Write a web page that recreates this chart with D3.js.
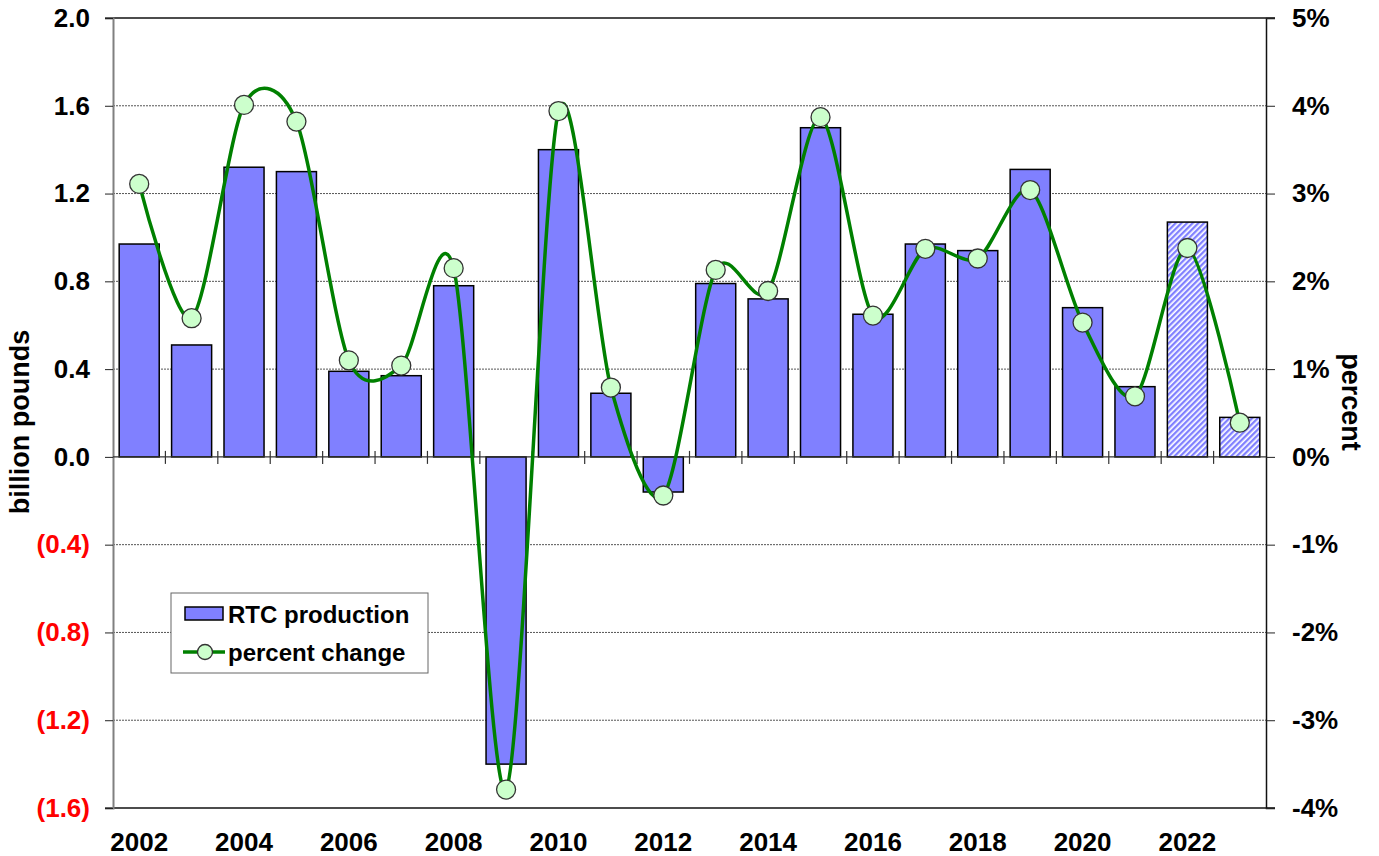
<!DOCTYPE html>
<html>
<head>
<meta charset="utf-8">
<script src="https://cdn.jsdelivr.net/npm/d3@7"></script>
<style>
  body { margin: 0; background: #fff; }
  #chart { width: 1379px; height: 856px; }
  text { font-family: "Liberation Sans", Arial, sans-serif; font-weight: bold; }
</style>
</head>
<body>
<div id="chart"></div>
<script>
// data
const years = ["2002","2003","2004","2005","2006","2007","2008","2009","2010","2011","2012",
               "2013","2014","2015","2016","2017","2018","2019","2020","2021","2022","2023"];
const production = [0.97, 0.51, 1.32, 1.30, 0.39, 0.37, 0.78, -1.40, 1.40, 0.29, -0.16,
                    0.79, 0.72, 1.50, 0.65, 0.97, 0.94, 1.31, 0.68, 0.32, 1.07, 0.18];
const pctChange = [3.11, 1.58, 4.01, 3.82, 1.10, 1.04, 2.15, -3.79, 3.94, 0.79, -0.44,
                   2.13, 1.89, 3.87, 1.61, 2.37, 2.26, 3.04, 1.53, 0.69, 2.38, 0.39];
const forecastYears = ["2022", "2023"];
const leftTicks = [2.0, 1.6, 1.2, 0.8, 0.4, 0.0, -0.4, -0.8, -1.2, -1.6];
const rightTicks = [5, 4, 3, 2, 1, 0, -1, -2, -3, -4];

const width = 1379, height = 856;
const margin = {top: 18, left: 113, right: 113, bottom: 48};

const svg = d3.select("#chart").append("svg")
    .attr("width", width).attr("height", height);

// hatch pattern for the forecast bars
const defs = svg.append("defs");
const pat = defs.append("pattern")
    .attr("id", "hatch")
    .attr("patternUnits", "userSpaceOnUse")
    .attr("width", 4).attr("height", 4)
    .attr("patternTransform", "rotate(45)");
pat.append("rect").attr("width", 4).attr("height", 4).attr("fill", "#ffffff");
pat.append("rect").attr("width", 2.3).attr("height", 4).attr("fill", "#8080ff");

const xScale = d3.scaleBand()
    .domain(years)
    .range([margin.left, width - margin.right])
    .paddingInner(0.236)
    .paddingOuter(0.118);

// category edges (for the small ticks on the zero line)
const xEdges = d3.scaleBand()
    .domain(years)
    .range([margin.left, width - margin.right]);

const yLeft = d3.scaleLinear()
    .domain([-1.6, 2.0])
    .range([height - margin.bottom, margin.top]);

const yRight = d3.scaleLinear()
    .domain([-4, 5])
    .range([height - margin.bottom, margin.top]);

const x0 = margin.left, x1 = width - margin.right;

// gridlines
svg.append("g")
    .selectAll("line")
    .data(leftTicks.filter(d => d !== 2.0 && d !== -1.6 && d !== 0))
    .enter().append("line")
    .attr("x1", x0).attr("x2", x1)
    .attr("y1", d => yLeft(d)).attr("y2", d => yLeft(d))
    .attr("stroke", "#555").attr("stroke-width", 1)
    .attr("stroke-dasharray", "2,1");

// top and bottom frame lines
[2.0, -1.6].forEach(v => {
    svg.append("line")
        .attr("x1", x0 - 8).attr("x2", x1 + 9)
        .attr("y1", yLeft(v)).attr("y2", yLeft(v))
        .attr("stroke", "#111").attr("stroke-width", 1.5);
});

// left axis
const leftAxis = svg.append("g")
    .attr("transform", `translate(${x0},0)`)
    .call(d3.axisLeft(yLeft).tickValues(leftTicks).tickSize(8).tickPadding(15)
        .tickFormat(d => d < 0 ? "(" + d3.format(".1f")(-d) + ")" : d3.format(".1f")(d)));
leftAxis.select(".domain").attr("stroke", "#808080").attr("stroke-width", 2);
leftAxis.selectAll(".tick line").attr("stroke", "#222");
leftAxis.selectAll(".tick text")
    .style("font-size", "26px")
    .attr("fill", d => d < 0 ? "#ff0000" : "#000");

// right axis
const rightAxis = svg.append("g")
    .attr("transform", `translate(${x1},0)`)
    .call(d3.axisRight(yRight).tickValues(rightTicks).tickSize(9).tickPadding(17)
        .tickFormat(d => d + "%"));
rightAxis.select(".domain").attr("stroke", "#111").attr("stroke-width", 1.5);
rightAxis.selectAll(".tick line").attr("stroke", "#222");
rightAxis.selectAll(".tick text").style("font-size", "26px").attr("fill", "#000");

// bars
svg.append("g")
    .selectAll("rect")
    .data(years.map((y, i) => ({year: y, value: production[i]})))
    .enter().append("rect")
    .attr("x", d => xScale(d.year))
    .attr("width", xScale.bandwidth())
    .attr("y", d => yLeft(Math.max(0, d.value)))
    .attr("height", d => Math.abs(yLeft(d.value) - yLeft(0)))
    .attr("fill", d => forecastYears.includes(d.year) ? "url(#hatch)" : "#8080ff")
    .attr("stroke", "#000").attr("stroke-width", 1.5);

// zero line with category ticks
svg.append("line")
    .attr("x1", x0).attr("x2", x1)
    .attr("y1", yLeft(0)).attr("y2", yLeft(0))
    .attr("stroke", "#333").attr("stroke-width", 1.2);
svg.append("g")
    .selectAll("line")
    .data(years.slice(1))
    .enter().append("line")
    .attr("x1", d => xEdges(d)).attr("x2", d => xEdges(d))
    .attr("y1", yLeft(0) - 6).attr("y2", yLeft(0) + 7)
    .attr("stroke", "#333").attr("stroke-width", 1.2);

// year labels
svg.append("g")
    .selectAll("text")
    .data(years.filter((d, i) => i % 2 === 0))
    .enter().append("text")
    .attr("x", d => xScale(d) + xScale.bandwidth() / 2)
    .attr("y", height - margin.bottom + 43)
    .attr("text-anchor", "middle")
    .style("font-size", "26px")
    .text(d => d);

// percent change line (smoothed like the spreadsheet line)
const pts = years.map((y, i) => ({year: y, value: pctChange[i]}));
const line = d3.line()
    .x(d => xScale(d.year) + xScale.bandwidth() / 2)
    .y(d => yRight(d.value))
    .curve(d3.curveCardinal.tension(0.15));

svg.append("path")
    .datum(pts)
    .attr("d", line)
    .attr("fill", "none")
    .attr("stroke", "#008000")
    .attr("stroke-width", 3.5);

svg.append("g")
    .selectAll("circle")
    .data(pts)
    .enter().append("circle")
    .attr("cx", d => xScale(d.year) + xScale.bandwidth() / 2)
    .attr("cy", d => yRight(d.value))
    .attr("r", 9.5)
    .attr("fill", "#ccffcc")
    .attr("stroke", "#333").attr("stroke-width", 1.3);

// axis titles
svg.append("text")
    .attr("transform", "translate(29,422) rotate(-90)")
    .attr("text-anchor", "middle")
    .style("font-size", "27px")
    .text("billion pounds");

svg.append("text")
    .attr("transform", "translate(1342,402) rotate(90)")
    .attr("text-anchor", "middle")
    .style("font-size", "27px")
    .text("percent");

// legend
const legend = svg.append("g").attr("transform", "translate(171,593)");
legend.append("rect")
    .attr("width", 257).attr("height", 80)
    .attr("fill", "#fff").attr("stroke", "#666").attr("stroke-width", 1);
legend.append("rect")
    .attr("x", 14).attr("y", 14).attr("width", 38).attr("height", 13)
    .attr("fill", "#8080ff").attr("stroke", "#000").attr("stroke-width", 1.5);
legend.append("text")
    .attr("x", 57).attr("y", 30)
    .style("font-size", "24px")
    .text("RTC production");
legend.append("line")
    .attr("x1", 12).attr("x2", 54).attr("y1", 59).attr("y2", 59)
    .attr("stroke", "#008000").attr("stroke-width", 3.5);
legend.append("circle")
    .attr("cx", 34).attr("cy", 59).attr("r", 7.5)
    .attr("fill", "#ccffcc").attr("stroke", "#333").attr("stroke-width", 1.3);
legend.append("text")
    .attr("x", 57).attr("y", 68)
    .style("font-size", "24px")
    .text("percent change");
</script>
</body>
</html>
